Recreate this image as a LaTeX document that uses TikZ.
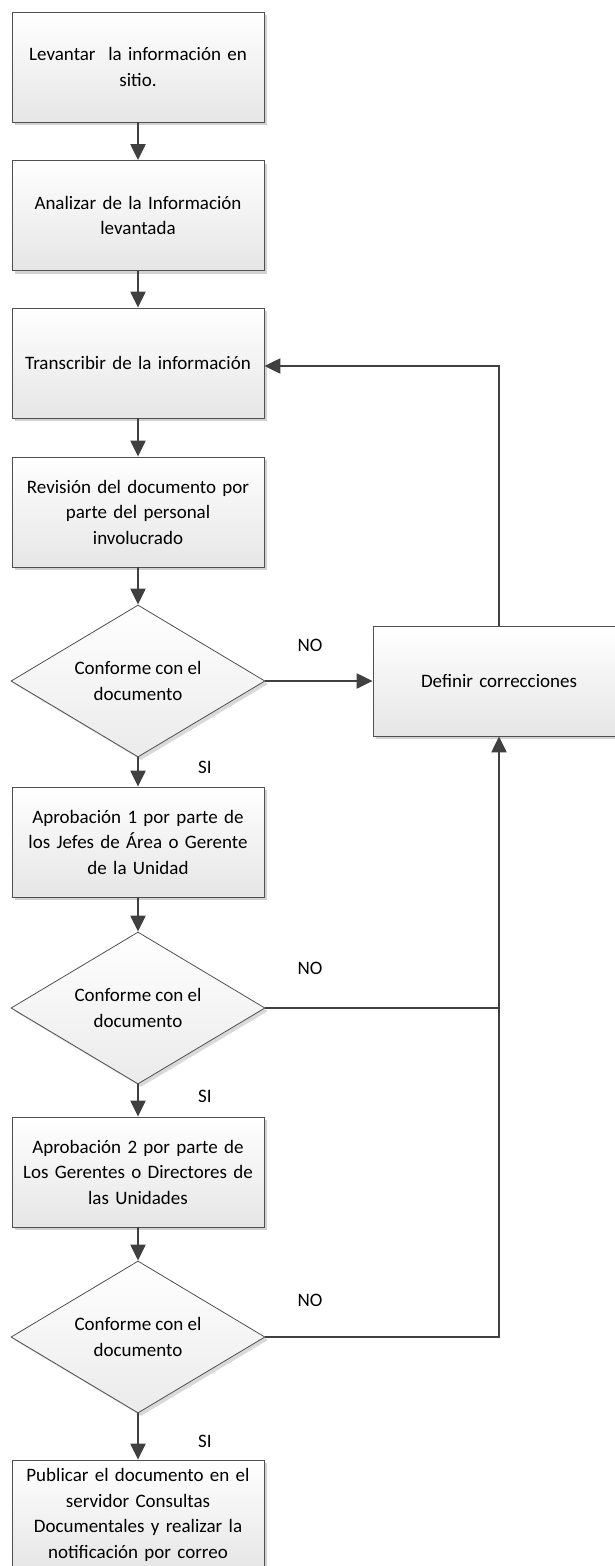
\documentclass[tikz,border=0pt]{standalone}
\usepackage{fontspec}
\setmainfont{Carlito}
\usetikzlibrary{shapes.geometric,arrows.meta,shadows}
\definecolor{linec}{HTML}{404040}
\definecolor{edgec}{HTML}{505050}
\tikzset{
  x=1pt, y=-1pt,
  procbox/.style={draw=edgec, line width=0.8pt, top color=white, bottom color=black!10,
    minimum width=252pt, minimum height=110pt, inner sep=2pt, align=center,
    text width=248pt, font=\fontsize{19}{25.5}\selectfont,
    drop shadow={shadow xshift=3pt, shadow yshift=-3pt, fill=black!18, opacity=1}},
  decbox/.style={diamond, aspect=1.67, draw=edgec, line width=0.8pt, top color=white, bottom color=black!8,
    minimum width=254pt, minimum height=152pt, inner sep=0pt, align=center,
    font=\fontsize{19}{25.5}\selectfont,
    drop shadow={shadow xshift=3pt, shadow yshift=-3pt, fill=black!15, opacity=1}},
  flow/.style={draw=linec, line width=2.2pt, -{Triangle[width=15pt,length=16pt]}},
  plainline/.style={draw=linec, line width=2.2pt},
  lbl/.style={font=\fontsize{19}{22}\selectfont, inner sep=0pt}
}
\begin{document}
\begin{tikzpicture}
\useasboundingbox (0,0) rectangle (614,1566);
\node[procbox] (b1) at (138,67) {Levantar\ \ la información en\\sitio.};
\node[procbox] (b2) at (138,215.5) {Analizar de la Información\\levantada};
\node[procbox] (b3) at (138,363) {Transcribir de la información};
\node[procbox] (b4) at (138,512) {Revisión del documento por\\parte del personal\\involucrado};
\node[decbox] (d1) at (138,681) {Conforme con el\\documento};
\node[procbox] (b5) at (138,842) {Aprobación 1 por parte de\\los Jefes de Área o Gerente\\de la Unidad};
\node[decbox] (d2) at (138,1008) {Conforme con el\\documento};
\node[procbox] (b6) at (138,1172) {Aprobación 2 por parte de\\Los Gerentes o Directores de\\las Unidades};
\node[decbox] (d3) at (138,1337) {Conforme con el\\documento};
\node[procbox] (b7) at (138,1515) {Publicar el documento en el\\servidor Consultas\\Documentales y realizar la\\notificación por correo};
\node[procbox] (def) at (499,681) {Definir correcciones};

\coordinate (up) at (499,366);
\coordinate (j2) at (499,1008);
\coordinate (j3) at (499,1337);

\draw[flow] (b1) -- (b2);
\draw[flow] (b2) -- (b3);
\draw[flow] (b3) -- (b4);
\draw[flow] (b4) -- (d1);
\draw[flow] (d1) -- (b5);
\draw[flow] (b5) -- (d2);
\draw[flow] (d2) -- (b6);
\draw[flow] (b6) -- (d3);
\draw[flow] (d3) -- (b7);
\draw[flow] (d1.east) -- (def.west);
\draw[flow] (def.north) -- (up) -- (b3.east |- up);
\draw[plainline] (d2.east) -- (j2);
\draw[flow] (d3.east) -- (j3) -- (def.south);

\node[lbl] (no1) at (310,645) {NO};
\node[lbl] (no2) at (310,968) {NO};
\node[lbl] (no3) at (310,1300) {NO};
\node[lbl] (si1) at (205,767) {SI};
\node[lbl] (si2) at (205,1096) {SI};
\node[lbl] (si3) at (205,1441) {SI};
\end{tikzpicture}
\end{document}
